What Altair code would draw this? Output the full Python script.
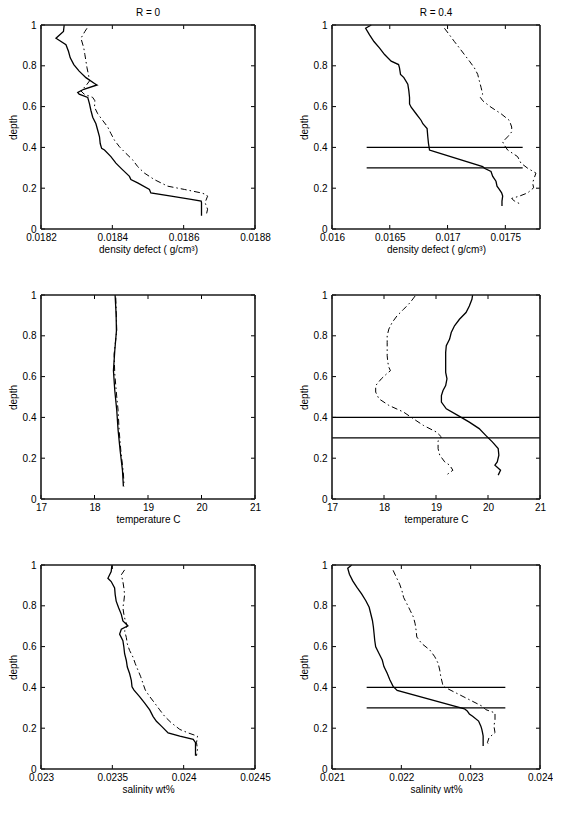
import altair as alt
import pandas as pd

FONT = "Liberation Sans"

# ---------------- Panel 1: density defect, R = 0 ----------------
dens0_solid_depth = [1.0, 0.968, 0.935, 0.903, 0.871, 0.839, 0.806, 0.774, 0.742, 0.713, 0.706, 0.685,
                     0.669, 0.661, 0.645, 0.613, 0.581, 0.548, 0.516, 0.484, 0.452, 0.419, 0.395,
                     0.387, 0.355, 0.323, 0.290, 0.258, 0.242, 0.226, 0.194, 0.177, 0.161, 0.145,
                     0.137, 0.129, 0.097, 0.065]
dens0_solid = [0.018265, 0.018263, 0.018242, 0.018270, 0.018277, 0.018282, 0.018292, 0.018307,
               0.018326, 0.018350, 0.018357, 0.018320, 0.018303, 0.018307, 0.018331, 0.018336,
               0.018340, 0.018345, 0.018354, 0.018359, 0.018364, 0.018366, 0.018370, 0.018378,
               0.018396, 0.018410, 0.018429, 0.018448, 0.018452, 0.018471, 0.018504, 0.018508,
               0.018565, 0.018621, 0.018649, 0.018650, 0.018650, 0.018650]
dens0_dash_depth = [0.984, 0.968, 0.935, 0.887, 0.855, 0.823, 0.790, 0.758, 0.726, 0.702, 0.677,
                    0.661, 0.645, 0.629, 0.597, 0.565, 0.532, 0.500, 0.468, 0.435, 0.403, 0.371,
                    0.339, 0.306, 0.274, 0.242, 0.210, 0.194, 0.177, 0.169, 0.161, 0.129, 0.097, 0.065]
dens0_dash = [0.018329, 0.018323, 0.018312, 0.018320, 0.018323, 0.018326, 0.018329, 0.018333,
              0.018336, 0.018326, 0.018312, 0.018321, 0.018345, 0.018351, 0.018350, 0.018359,
              0.018373, 0.018387, 0.018396, 0.018406, 0.018420, 0.018438, 0.018457, 0.018471,
              0.018490, 0.018518, 0.018555, 0.018602, 0.018649, 0.018663, 0.018667, 0.018660,
              0.018667, 0.018663]

# ---------------- Panel 2: density defect, R = 0.4 ----------------
dens4_solid_depth = [1.0, 0.984, 0.952, 0.919, 0.887, 0.855, 0.823, 0.806, 0.790, 0.758, 0.742,
                     0.710, 0.677, 0.645, 0.613, 0.597, 0.565, 0.532, 0.516, 0.492, 0.452, 0.419,
                     0.387, 0.381, 0.306, 0.298, 0.282, 0.258, 0.234, 0.210, 0.194, 0.177, 0.161,
                     0.137, 0.113]
dens4_solid = [0.016340, 0.016291, 0.016325, 0.016363, 0.016412, 0.016455, 0.016512, 0.016576,
               0.016584, 0.016593, 0.016622, 0.016656, 0.016665, 0.016671, 0.016671, 0.016685,
               0.016728, 0.016772, 0.016786, 0.016823, 0.016829, 0.016835, 0.016844, 0.016880,
               0.017304, 0.017319, 0.017376, 0.017391, 0.017419, 0.017428, 0.017448, 0.017468,
               0.017477, 0.017471, 0.017471]
dens4_dash_depth = [0.984, 0.952, 0.919, 0.887, 0.855, 0.823, 0.790, 0.758, 0.726, 0.694, 0.661,
                    0.645, 0.629, 0.597, 0.565, 0.532, 0.500, 0.476, 0.452, 0.427, 0.411, 0.387,
                    0.355, 0.323, 0.298, 0.274, 0.250, 0.226, 0.202, 0.177, 0.161, 0.150, 0.137, 0.121]
dens4_dash = [0.016973, 0.017016, 0.017059, 0.017103, 0.017146, 0.017189, 0.017232, 0.017261,
              0.017275, 0.017290, 0.017304, 0.017284, 0.017304, 0.017376, 0.017463, 0.017535,
              0.017555, 0.017555, 0.017520, 0.017477, 0.017491, 0.017520, 0.017606, 0.017635,
              0.017693, 0.017765, 0.017750, 0.017736, 0.017745, 0.017693, 0.017621, 0.017555,
              0.017578, 0.017635]

# ---------------- Panel 3: temperature, R = 0 ----------------
temp0_solid_depth = [1.0, 0.906, 0.825, 0.727, 0.630, 0.532, 0.435, 0.338, 0.240, 0.143, 0.062]
temp0_solid = [18.385, 18.404, 18.410, 18.379, 18.354, 18.379, 18.416, 18.441, 18.478, 18.522, 18.540]
temp0_dash_depth = [0.987, 0.825, 0.711, 0.614, 0.500, 0.435, 0.338, 0.240, 0.127, 0.062]
temp0_dash = [18.398, 18.416, 18.366, 18.379, 18.416, 18.441, 18.460, 18.491, 18.540, 18.553]

# ---------------- Panel 4: temperature, R = 0.4 ----------------
temp4_solid_depth = [1.0, 0.979, 0.946, 0.914, 0.881, 0.849, 0.816, 0.784, 0.751, 0.719, 0.686,
                     0.654, 0.621, 0.589, 0.556, 0.532, 0.507, 0.475, 0.442, 0.410, 0.377, 0.345,
                     0.312, 0.280, 0.247, 0.215, 0.182, 0.166, 0.141, 0.117]
temp4_solid = [19.704, 19.691, 19.641, 19.577, 19.451, 19.356, 19.293, 19.262, 19.198, 19.186,
               19.186, 19.186, 19.186, 19.211, 19.186, 19.135, 19.104, 19.104, 19.198, 19.419,
               19.641, 19.830, 19.956, 20.083, 20.196, 20.209, 20.178, 20.133, 20.241, 20.196]
temp4_dash_depth = [0.995, 0.963, 0.930, 0.898, 0.865, 0.833, 0.800, 0.767, 0.735, 0.702, 0.670,
                    0.646, 0.629, 0.613, 0.589, 0.556, 0.524, 0.491, 0.459, 0.426, 0.393, 0.361,
                    0.328, 0.304, 0.285, 0.247, 0.215, 0.182, 0.166, 0.141, 0.117]
temp4_dash = [18.598, 18.503, 18.377, 18.251, 18.156, 18.093, 18.061, 18.061, 18.061, 18.061,
              18.074, 18.093, 18.124, 18.049, 17.948, 17.840, 17.840, 17.903, 18.093, 18.377,
              18.567, 18.756, 19.009, 19.104, 19.040, 19.040, 19.072, 19.167, 19.262, 19.325, 19.198]

# ---------------- Panel 5: salinity, R = 0 ----------------
sal0_solid_depth = [1.0, 0.968, 0.935, 0.919, 0.887, 0.855, 0.823, 0.790, 0.758, 0.726, 0.702,
                    0.685, 0.661, 0.629, 0.597, 0.565, 0.532, 0.500, 0.468, 0.435, 0.403, 0.387,
                    0.355, 0.323, 0.290, 0.258, 0.234, 0.210, 0.177, 0.161, 0.145, 0.129, 0.097, 0.065]
sal0_solid = [0.023497, 0.023492, 0.023469, 0.023492, 0.023516, 0.023520, 0.023527, 0.023544,
              0.023563, 0.023574, 0.023609, 0.023563, 0.023551, 0.023574, 0.023581, 0.023586,
              0.023598, 0.023605, 0.023621, 0.023633, 0.023638, 0.023652, 0.023691, 0.023727,
              0.023762, 0.023785, 0.023809, 0.023844, 0.023891, 0.023973, 0.024067, 0.024083,
              0.024083, 0.024083]
sal0_dash_depth = [0.976, 0.952, 0.919, 0.887, 0.855, 0.823, 0.790, 0.758, 0.726, 0.702, 0.677,
                   0.645, 0.613, 0.581, 0.548, 0.516, 0.484, 0.452, 0.419, 0.387, 0.355, 0.323,
                   0.290, 0.258, 0.226, 0.194, 0.177, 0.161, 0.129, 0.097, 0.065]
sal0_dash = [0.023586, 0.023563, 0.023574, 0.023581, 0.023586, 0.023581, 0.023574, 0.023581,
             0.023591, 0.023605, 0.023586, 0.023598, 0.023605, 0.023621, 0.023645, 0.023661,
             0.023680, 0.023699, 0.023715, 0.023731, 0.023762, 0.023797, 0.023832, 0.023867,
             0.023914, 0.023973, 0.024031, 0.024097, 0.024090, 0.024097, 0.024090]

# ---------------- Panel 6: salinity, R = 0.4 ----------------
sal4_solid_depth = [1.0, 0.984, 0.955, 0.922, 0.890, 0.858, 0.825, 0.793, 0.761, 0.728, 0.696,
                    0.663, 0.631, 0.599, 0.566, 0.534, 0.502, 0.469, 0.437, 0.405, 0.385, 0.295,
                    0.285, 0.270, 0.259, 0.235, 0.210, 0.194, 0.178, 0.162, 0.138, 0.113]
sal4_solid = [0.021284, 0.021227, 0.021251, 0.021299, 0.021360, 0.021427, 0.021488, 0.021536,
              0.021559, 0.021583, 0.021597, 0.021607, 0.021616, 0.021630, 0.021678, 0.021725,
              0.021749, 0.021796, 0.021834, 0.021881, 0.021940, 0.022910, 0.022950, 0.022981,
              0.023028, 0.023114, 0.023147, 0.023161, 0.023171, 0.023180, 0.023180, 0.023180]
sal4_dash_depth = [0.974, 0.939, 0.906, 0.874, 0.841, 0.809, 0.777, 0.744, 0.712, 0.680, 0.647,
                   0.615, 0.583, 0.550, 0.518, 0.485, 0.453, 0.421, 0.405, 0.307, 0.291, 0.275,
                   0.243, 0.210, 0.178, 0.154, 0.129, 0.113]
sal4_dash = [0.021881, 0.021929, 0.021976, 0.022009, 0.022033, 0.022081, 0.022128, 0.022175,
             0.022199, 0.022213, 0.022223, 0.022294, 0.022412, 0.022483, 0.022531, 0.022554,
             0.022569, 0.022592, 0.022602, 0.023171, 0.023218, 0.023351, 0.023351, 0.023336,
             0.023351, 0.023265, 0.023242, 0.023275]

# ---------------- Axis tick values and titles ----------------
depth_ticks = [0, 0.2, 0.4, 0.6, 0.8, 1]
dens0_ticks = [0.0182, 0.0184, 0.0186, 0.0188]
dens4_ticks = [0.016, 0.0165, 0.017, 0.0175]
temp_ticks = [17, 18, 19, 20, 21]
sal0_ticks = [0.023, 0.0235, 0.024, 0.0245]
sal4_ticks = [0.021, 0.022, 0.023, 0.024]

dens0_domain = [0.0182, 0.0188]
dens4_domain = [0.016, 0.0178]
temp_domain = [17, 21]
sal0_domain = [0.023, 0.0245]
sal4_domain = [0.021, 0.024]
depth_domain = [0, 1]

# layer boundaries (horizontal lines) in the R = 0.4 panels
layer_depths = [0.4, 0.3]
dens4_layer_x = [0.0163, 0.01765]
temp4_layer_x = [17, 21]
sal4_layer_x = [0.0215, 0.0235]

col_titles = ["R = 0", "R = 0.4"]
dens_title = "density defect ( g/cm\u00b3)"
temp_title = "temperature C"
sal_title = "salinity wt%"

PANEL_H = 204
TICK_PX = 4
FRAME_COLOR = "#1a1a1a"

common_axis = dict(grid=False, domain=False, ticks=False,
                   labelFont=FONT, labelFontSize=10, labelColor="black",
                   titleFont=FONT, titleFontSize=10, titleColor="black", titleFontWeight="normal",
                   labelFlush=False, labelOverlap=False)


def line_df(depth, vals):
    return pd.DataFrame({"depth": depth, "v": vals, "i": list(range(len(depth)))})


def panel(sd, sv, dd, dv, domain, ticks, xtitle, width, title=None, layer_x=None):
    xs = alt.Scale(domain=domain, nice=False, zero=False)
    ys = alt.Scale(domain=depth_domain, nice=False, zero=False)
    # the same axis definitions are given to every layer so they merge into one
    ax_b = alt.Axis(orient="bottom", values=ticks, format="~g", title=xtitle,
                    labelPadding=3, titlePadding=2, **common_axis)
    ax_l = alt.Axis(orient="left", values=depth_ticks, format="~g", title="depth",
                    labelPadding=5, titlePadding=4, **common_axis)

    d0, d1 = domain
    y0, y1 = depth_domain
    ty = TICK_PX / PANEL_H * (y1 - y0)
    tx = TICK_PX / width * (d1 - d0)

    # frame: vertical sides and horizontal sides through the panel's scales
    vside = pd.DataFrame({"v": [d0, d1], "depth": [y0, y0], "depth2": [y1, y1]})
    hside = pd.DataFrame({"depth": [y0, y1], "v": [d0, d0], "v2": [d1, d1]})
    frame_v = alt.Chart(vside).mark_rule(color=FRAME_COLOR, strokeWidth=1.6).encode(
        x=alt.X("v:Q", scale=xs, axis=ax_b),
        y=alt.Y("depth:Q", scale=ys, axis=ax_l), y2="depth2:Q")
    frame_h = alt.Chart(hside).mark_rule(color=FRAME_COLOR, strokeWidth=1.6).encode(
        y=alt.Y("depth:Q", scale=ys, axis=ax_l),
        x=alt.X("v:Q", scale=xs, axis=ax_b), x2="v2:Q")

    # inward tick marks (bottom/top for x ticks, left/right for depth ticks)
    xt_rows = [(t, y0, y0 + ty) for t in ticks] + [(t, y1, y1 - ty) for t in ticks]
    yt_rows = [(t, d0, d0 + tx) for t in depth_ticks] + [(t, d1, d1 - tx) for t in depth_ticks]
    xt = pd.DataFrame(xt_rows, columns=["v", "depth", "depth2"])
    yt = pd.DataFrame(yt_rows, columns=["depth", "v", "v2"])
    xtick_marks = alt.Chart(xt).mark_rule(color="black", strokeWidth=1).encode(
        x=alt.X("v:Q", scale=xs, axis=ax_b),
        y=alt.Y("depth:Q", scale=ys, axis=ax_l), y2="depth2:Q")
    ytick_marks = alt.Chart(yt).mark_rule(color="black", strokeWidth=1).encode(
        y=alt.Y("depth:Q", scale=ys, axis=ax_l),
        x=alt.X("v:Q", scale=xs, axis=ax_b), x2="v2:Q")

    solid = alt.Chart(line_df(sd, sv)).mark_line(color="black", strokeWidth=1.3).encode(
        x=alt.X("v:Q", scale=xs, axis=ax_b),
        y=alt.Y("depth:Q", scale=ys, axis=ax_l),
        order=alt.Order("i:Q"),
    )
    dashed = alt.Chart(line_df(dd, dv)).mark_line(
        color="black", strokeWidth=1.0, strokeDash=[6, 3, 1.5, 3]).encode(
        x=alt.X("v:Q", scale=xs, axis=ax_b),
        y=alt.Y("depth:Q", scale=ys, axis=ax_l),
        order=alt.Order("i:Q"),
    )
    layers = [solid, dashed]
    if layer_x is not None:
        rdf = pd.DataFrame({"depth": layer_depths,
                            "v": [layer_x[0]] * len(layer_depths),
                            "v2": [layer_x[1]] * len(layer_depths)})
        rules = alt.Chart(rdf).mark_rule(color="black", strokeWidth=1.2).encode(
            x=alt.X("v:Q", scale=xs, axis=ax_b),
            x2="v2:Q",
            y=alt.Y("depth:Q", scale=ys, axis=ax_l),
        )
        layers.append(rules)
    layers += [xtick_marks, ytick_marks, frame_v, frame_h]
    ch = alt.layer(*layers).properties(width=width, height=PANEL_H)
    if title is not None:
        ch = ch.properties(title=alt.TitleParams(title, font=FONT, fontSize=10,
                                                 fontWeight="normal", color="black", offset=2))
    return ch


p1 = panel(dens0_solid_depth, dens0_solid, dens0_dash_depth, dens0_dash, dens0_domain,
           dens0_ticks, dens_title, 214, title=col_titles[0])
p2 = panel(dens4_solid_depth, dens4_solid, dens4_dash_depth, dens4_dash, dens4_domain,
           dens4_ticks, dens_title, 208, title=col_titles[1], layer_x=dens4_layer_x)
p3 = panel(temp0_solid_depth, temp0_solid, temp0_dash_depth, temp0_dash, temp_domain,
           temp_ticks, temp_title, 214)
p4 = panel(temp4_solid_depth, temp4_solid, temp4_dash_depth, temp4_dash, temp_domain,
           temp_ticks, temp_title, 208, layer_x=temp4_layer_x)
p5 = panel(sal0_solid_depth, sal0_solid, sal0_dash_depth, sal0_dash, sal0_domain,
           sal0_ticks, sal_title, 214)
p6 = panel(sal4_solid_depth, sal4_solid, sal4_dash_depth, sal4_dash, sal4_domain,
           sal4_ticks, sal_title, 208, layer_x=sal4_layer_x)

chart = alt.concat(p1, p2, p3, p4, p5, p6, columns=2,
                   spacing=alt.RowColnumber(row=66, column=77), bounds="flush").properties(
    padding={"left": 0, "top": 0, "right": 0, "bottom": 0},
    background="white",
).configure_view(stroke=None)

chart.save("out.html", embed_options={"renderer": "svg", "actions": False})
